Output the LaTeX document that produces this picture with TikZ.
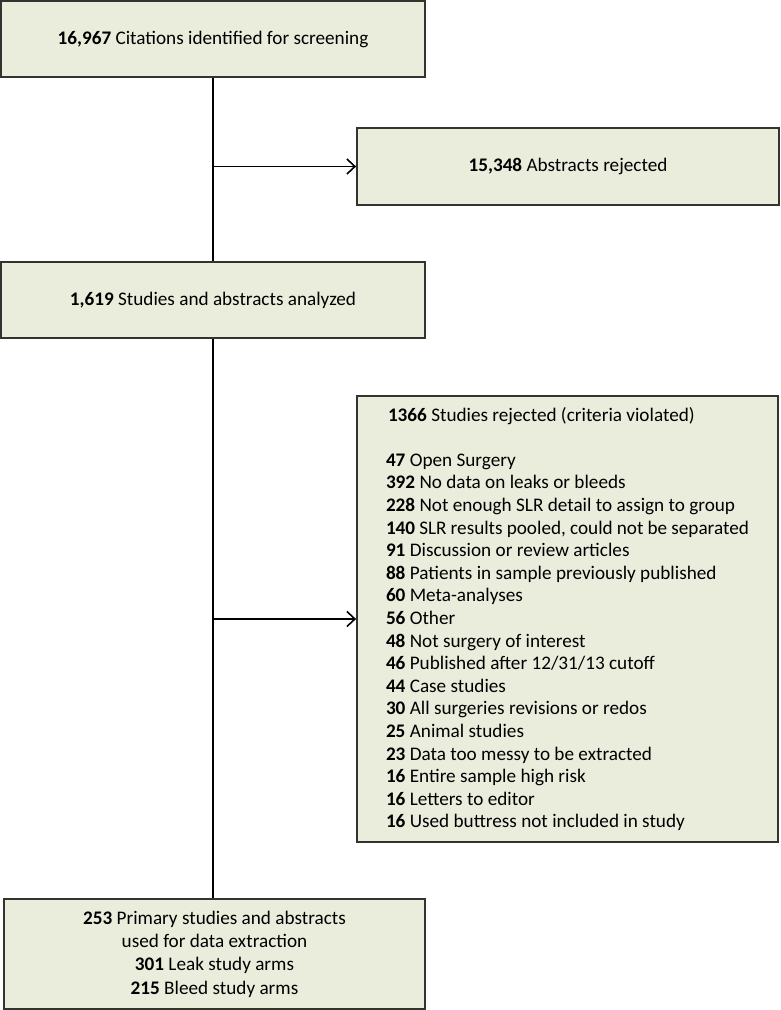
\documentclass[tikz,border=0pt]{standalone}
\usepackage{fontspec}
\setmainfont{Carlito}
\usepackage{tikz}
\usetikzlibrary{arrows.meta}
\usetikzlibrary{positioning}
\definecolor{boxfill}{RGB}{234,237,220}
\definecolor{boxline}{RGB}{50,52,48}

\begin{document}
\begin{tikzpicture}[x=1pt,y=-1pt,line width=1.6pt,
  font=\fontsize{19.2}{22.6}\selectfont,
  flowbox/.style={draw=boxline,fill=boxfill,line width=1.8pt,inner sep=0pt},
  link/.style={-{Straight Barb[length=8pt,width=15pt,line width=1.6pt]}}]
  \useasboundingbox (0,0) rectangle (780,1010);
  \node[flowbox,minimum width=424pt,minimum height=76pt](cites) at (213,39) {\textbf{16,967} Citations identified for screening};
  \node[flowbox,minimum width=422pt,minimum height=77pt](abstrej) at (568,166.5) {\textbf{15,348} Abstracts rejected};
  \node[flowbox,minimum width=424pt,minimum height=76pt](analyzed) at (213,300) {\textbf{1,619} Studies and abstracts analyzed};
  \node[flowbox,minimum width=421pt,minimum height=446pt,text width=363pt,inner xsep=29pt,align=flush left](studrej) at (567.5,619) {%
    \hspace{2pt}\textbf{1366} Studies rejected (criteria violated)\\[22.6pt]
    \textbf{47} Open Surgery\\
    \textbf{392} No data on leaks or bleeds\\
    \textbf{228} Not enough SLR detail to assign to group\\
    \textbf{140} SLR results pooled, could not be separated\\
    \textbf{91} Discussion or review articles\\
    \textbf{88} Patients in sample previously published\\
    \textbf{60} Meta-analyses\\
    \textbf{56} Other\\
    \textbf{48} Not surgery of interest\\
    \textbf{46} Published after 12/31/13 cutoff\\
    \textbf{44} Case studies\\
    \textbf{30} All surgeries revisions or redos\\
    \textbf{25} Animal studies\\
    \textbf{23} Data too messy to be extracted\\
    \textbf{16} Entire sample high risk\\
    \textbf{16} Letters to editor\\
    \textbf{16} Used buttress not included in study};
  \node[flowbox,minimum width=421pt,minimum height=110pt,align=center,
    font=\fontsize{19.2}{23.3}\selectfont](used) at (214.5,954) {%
    \textbf{253} Primary studies and abstracts\\
    used for data extraction\\
    \textbf{301} Leak study arms\\
    \textbf{215} Bleed study arms};
  \coordinate (split1) at (cites.south |- abstrej.west);
  \coordinate (split2) at (analyzed.south |- studrej.west);
  \draw (cites)--(analyzed);
  \draw (analyzed.south)--(analyzed.south |- used.north);
  \draw[link] (split1)--(abstrej.west);
  \draw[link] (split2)--(studrej.west);
\end{tikzpicture}
\end{document}
